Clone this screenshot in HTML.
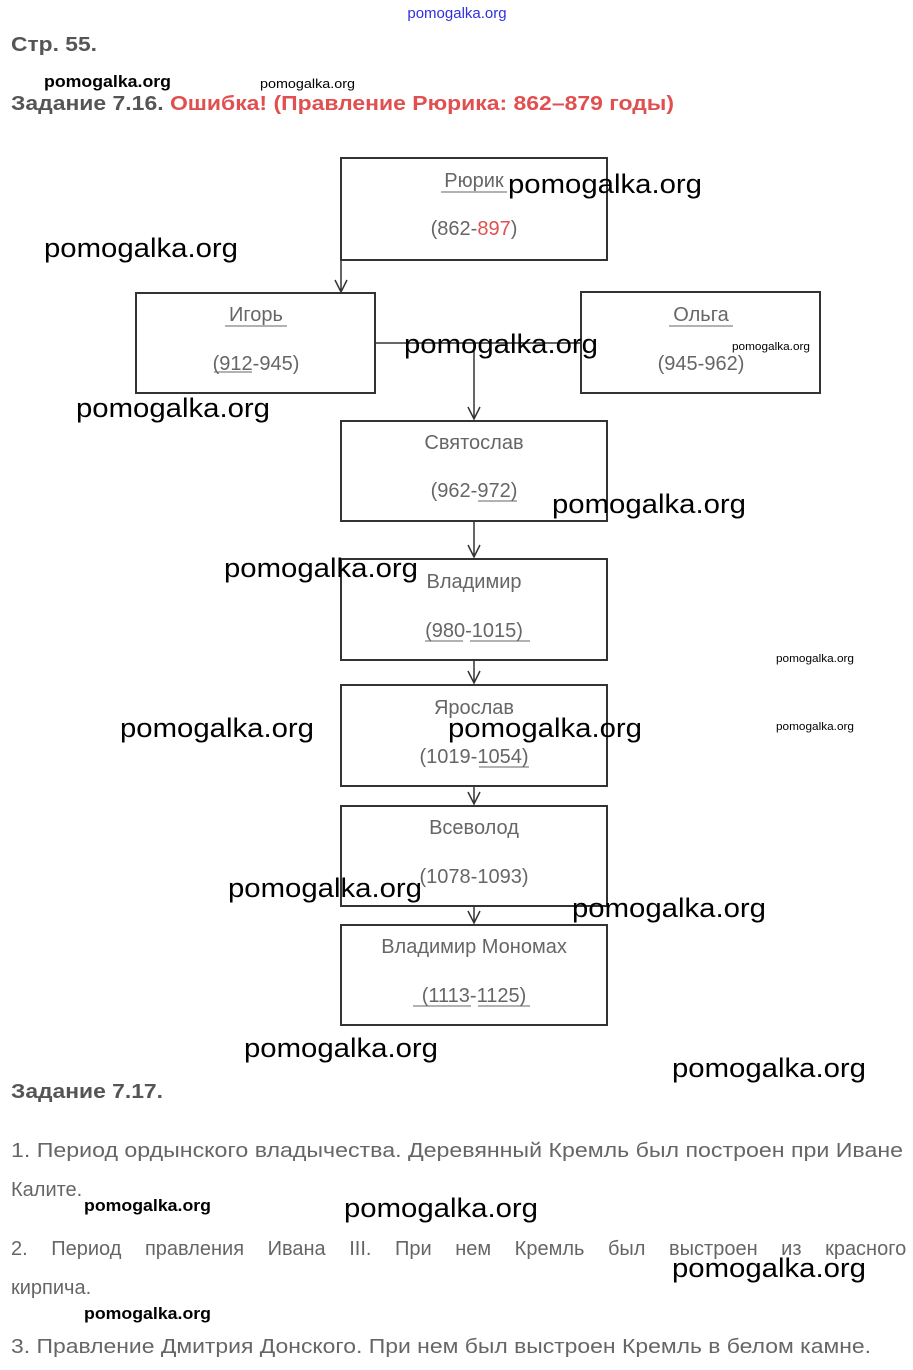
<!DOCTYPE html>
<html><head><meta charset="utf-8"><style>
html,body{margin:0;padding:0;background:#fff}
svg{display:block}
.t{font-family:"Liberation Sans",sans-serif;fill:#666;font-size:20px}
.h{font-family:"Liberation Sans",sans-serif;fill:#555;font-size:20px;font-weight:bold}
.w{font-family:"Liberation Sans",sans-serif;fill:#000;font-size:27px}
.ws{font-family:"Liberation Sans",sans-serif;fill:#000;font-size:17px;font-weight:bold}
.wt{font-family:"Liberation Sans",sans-serif;fill:#000;font-size:11px}
.b{fill:none;stroke:#333;stroke-width:2}
.l{stroke:#333;stroke-width:1.5;fill:none}
</style></head><body>
<svg width="913" height="1370" xmlns="http://www.w3.org/2000/svg">
<text x="457" y="18" text-anchor="middle" style="font-family:'Liberation Sans',sans-serif;font-size:15px;fill:#3030e0">pomogalka.org</text>
<text x="11" y="51" class="h" textLength="86" lengthAdjust="spacingAndGlyphs">Стр. 55.</text>
<text x="44" y="87" class="ws" textLength="127" lengthAdjust="spacingAndGlyphs">pomogalka.org</text>
<text x="260" y="88" class="wt" style="font-size:13px" textLength="95" lengthAdjust="spacingAndGlyphs">pomogalka.org</text>
<text x="11" y="110" class="h" textLength="663" lengthAdjust="spacingAndGlyphs">Задание 7.16. <tspan fill="#e05050">Ошибка! (Правление Рюрика: 862–879 годы)</tspan></text>

<rect class="b" x="341" y="158" width="266" height="102"/>
<rect class="b" x="136" y="293" width="239" height="100"/>
<rect class="b" x="581" y="292" width="239" height="101"/>
<rect class="b" x="341" y="421" width="266" height="100"/>
<rect class="b" x="341" y="559" width="266" height="101"/>
<rect class="b" x="341" y="685" width="266" height="101"/>
<rect class="b" x="341" y="806" width="266" height="100"/>
<rect class="b" x="341" y="925" width="266" height="100"/>

<path class="l" d="M341 260V292M335 280L341 292L347 280"/>
<path class="l" d="M375 343H581M474 343V419M468 407L474 419L480 407"/>
<path class="l" d="M474 521V557M468 545L474 557L480 545"/>
<path class="l" d="M474 660V683M468 671L474 683L480 671"/>
<path class="l" d="M474 786V804M468 792L474 804L480 792"/>
<path class="l" d="M474 906V923M468 911L474 923L480 911"/>

<g class="t" text-anchor="middle">
<text x="474" y="187">Рюрик</text>
<text x="474" y="235">(862-<tspan fill="#e05050">897</tspan>)</text>
<text x="256" y="321">Игорь</text>
<text x="256" y="370">(912-945)</text>
<text x="701" y="321">Ольга</text>
<text x="701" y="370">(945-962)</text>
<text x="474" y="449">Святослав</text>
<text x="474" y="497">(962-972)</text>
<text x="474" y="588">Владимир</text>
<text x="474" y="637">(980-1015)</text>
<text x="474" y="714">Ярослав</text>
<text x="474" y="763">(1019-1054)</text>
<text x="474" y="834">Всеволод</text>
<text x="474" y="883">(1078-1093)</text>
<text x="474" y="953">Владимир Мономах</text>
<text x="474" y="1002">(1113-1125)</text>
</g>
<g stroke="#666" stroke-width="1">
<path d="M441 192H507M225 326H287M669 326H733M214 372H252M478 501H517M425 641H463M470 641H530M479 767H529M413 1006H471M478 1006H530"/>
</g>

<text x="11" y="1098" class="h" textLength="152" lengthAdjust="spacingAndGlyphs">Задание 7.17.</text>
<g class="t">
<text x="11" y="1157" textLength="892" lengthAdjust="spacingAndGlyphs">1. Период ордынского владычества. Деревянный Кремль был построен при Иване</text>
<text x="11" y="1196">Калите.</text>
<text x="11" y="1255" style="word-spacing:18px">2. Период правления Ивана III. При нем Кремль был выстроен из красного</text>
<text x="11" y="1294">кирпича.</text>
<text x="11" y="1353" textLength="860" lengthAdjust="spacingAndGlyphs">3. Правление Дмитрия Донского. При нем был выстроен Кремль в белом камне.</text>
</g>

<g class="w">
<text x="508" y="193" textLength="194" lengthAdjust="spacingAndGlyphs">pomogalka.org</text>
<text x="44" y="257" textLength="194" lengthAdjust="spacingAndGlyphs">pomogalka.org</text>
<text x="404" y="353" textLength="194" lengthAdjust="spacingAndGlyphs">pomogalka.org</text>
<text x="76" y="417" textLength="194" lengthAdjust="spacingAndGlyphs">pomogalka.org</text>
<text x="552" y="513" textLength="194" lengthAdjust="spacingAndGlyphs">pomogalka.org</text>
<text x="224" y="577" textLength="194" lengthAdjust="spacingAndGlyphs">pomogalka.org</text>
<text x="120" y="737" textLength="194" lengthAdjust="spacingAndGlyphs">pomogalka.org</text>
<text x="448" y="737" textLength="194" lengthAdjust="spacingAndGlyphs">pomogalka.org</text>
<text x="228" y="897" textLength="194" lengthAdjust="spacingAndGlyphs">pomogalka.org</text>
<text x="572" y="917" textLength="194" lengthAdjust="spacingAndGlyphs">pomogalka.org</text>
<text x="244" y="1057" textLength="194" lengthAdjust="spacingAndGlyphs">pomogalka.org</text>
<text x="672" y="1077" textLength="194" lengthAdjust="spacingAndGlyphs">pomogalka.org</text>
<text x="344" y="1217" textLength="194" lengthAdjust="spacingAndGlyphs">pomogalka.org</text>
<text x="672" y="1277" textLength="194" lengthAdjust="spacingAndGlyphs">pomogalka.org</text>
</g>
<g class="ws">
<text x="84" y="1211" textLength="127" lengthAdjust="spacingAndGlyphs">pomogalka.org</text>
<text x="84" y="1319" textLength="127" lengthAdjust="spacingAndGlyphs">pomogalka.org</text>
</g>
<g class="wt">
<text x="732" y="350" textLength="78" lengthAdjust="spacingAndGlyphs">pomogalka.org</text>
<text x="776" y="662" textLength="78" lengthAdjust="spacingAndGlyphs">pomogalka.org</text>
<text x="776" y="730" textLength="78" lengthAdjust="spacingAndGlyphs">pomogalka.org</text>
</g>
</svg>
</body></html>
